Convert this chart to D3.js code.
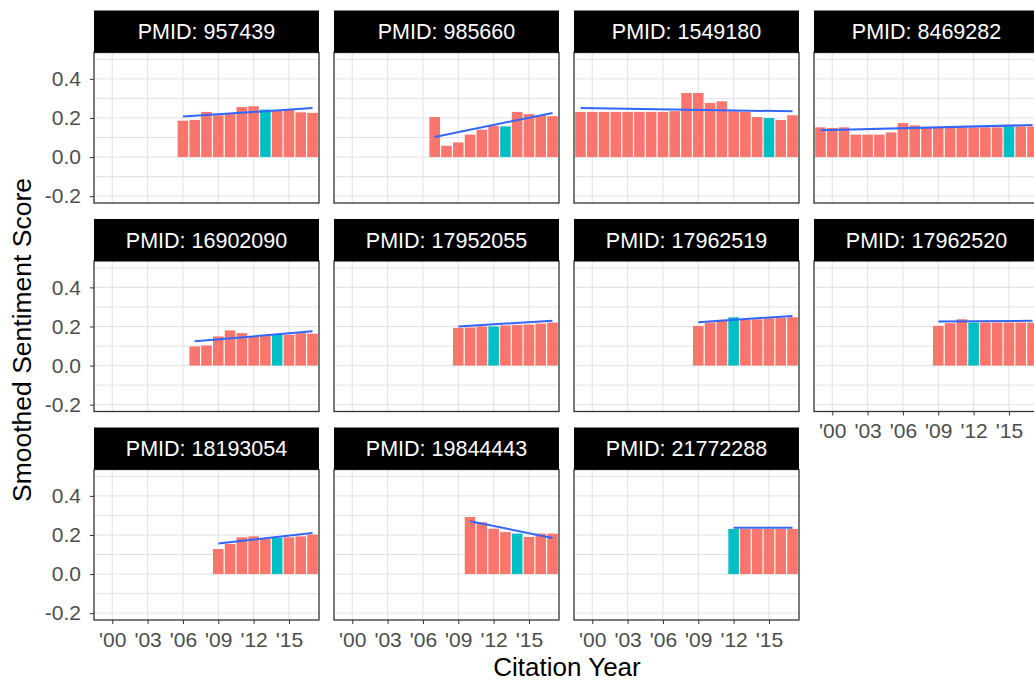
<!DOCTYPE html>
<html>
<head>
<meta charset="utf-8">
<script src="https://cdn.jsdelivr.net/npm/d3@7"></script>
<style>
body { margin: 0; background: #fff; }
text { font-family: "Liberation Sans", Arial, sans-serif; }
</style>
</head>
<body>
<svg id="chart" width="1034" height="682"></svg>
<script>
//facet labels, in the order they are wrapped
var pmids = ["957439", "985660", "1549180", "8469282", "16902090", "17952055",
  "17962519", "17962520", "18193054", "19844443", "21772288"];
//first citation year of each paper, and the year of the highlighted bar
var firstYears = [2006, 2007, 1999, 1999, 2007, 2009, 2009, 2009, 2009, 2010, 2012];
var highlightYears = [2013, 2013, 2015, 2015, 2014, 2012, 2012, 2012, 2014, 2014, 2012];

//smoothed sentiment score per year, from the first year onwards
var scores_957439 = [0.186, 0.19, 0.231, 0.214, 0.22, 0.256, 0.26, 0.243, 0.239, 0.243, 0.229, 0.226];
var scores_985660 = [0.205, 0.058, 0.075, 0.115, 0.14, 0.16, 0.157, 0.231, 0.22, 0.214, 0.209];
var scores_1549180 = [0.231, 0.231, 0.231, 0.231, 0.231, 0.231, 0.231, 0.231, 0.235, 0.328,
  0.328, 0.277, 0.285, 0.234, 0.231, 0.205, 0.2, 0.19, 0.214];
var scores_8469282 = [0.152, 0.149, 0.152, 0.115, 0.115, 0.115, 0.126, 0.174, 0.162, 0.149,
  0.154, 0.152, 0.152, 0.152, 0.152, 0.152, 0.157, 0.157, 0.157];
var scores_16902090 = [0.098, 0.103, 0.149, 0.18, 0.166, 0.149, 0.153, 0.158, 0.158, 0.166, 0.163];
var scores_17952055 = [0.193, 0.195, 0.2, 0.2, 0.205, 0.208, 0.21, 0.215, 0.22];
var scores_17962519 = [0.203, 0.22, 0.234, 0.247, 0.234, 0.237, 0.242, 0.245, 0.247];
var scores_17962520 = [0.203, 0.217, 0.237, 0.22, 0.22, 0.22, 0.22, 0.22, 0.22];
var scores_18193054 = [0.128, 0.154, 0.188, 0.193, 0.18, 0.185, 0.188, 0.193, 0.202];
var scores_19844443 = [0.292, 0.265, 0.232, 0.215, 0.207, 0.19, 0.207, 0.207];
var scores_21772288 = [0.231, 0.231, 0.231, 0.231, 0.231, 0.231];

//linear trend (geom_smooth lm): value at first year and at 2017
var trendStart = [0.207, 0.103, 0.251, 0.137, 0.124, 0.2, 0.222, 0.225, 0.156, 0.27, 0.237];
var trendEnd = [0.251, 0.226, 0.234, 0.164, 0.175, 0.229, 0.254, 0.229, 0.21, 0.185, 0.237];
var lastYear = 2017;

//axis ticks
var yearTicks = [2000, 2003, 2006, 2009, 2012, 2015];
var yearLabels = ["'00", "'03", "'06", "'09", "'12", "'15"];
var scoreTicks = [-0.2, 0.0, 0.2, 0.4];
var scoreGrid = [-0.2, -0.1, 0.0, 0.1, 0.2, 0.3, 0.4, 0.5];

var allScores = [scores_957439, scores_985660, scores_1549180, scores_8469282,
  scores_16902090, scores_17952055, scores_17962519, scores_17962520,
  scores_18193054, scores_19844443, scores_21772288];

//layout of the facet grid
var nCols = 4;
var panelW = 225, panelH = 150.5, stripH = 42;
var left0 = 94, colStep = 240;
var top0 = 52.5, rowStep = 208.5;
var barFill = "#F8766D", highFill = "#00BFC4", trendCol = "#3366FF";

var svg = d3.select("#chart");

var xScale = d3.scaleLinear().domain([1998.45, 2017.55]).range([0, panelW]);
var yScale = d3.scaleLinear().domain([-0.235, 0.535]).range([panelH, 0]);

pmids.forEach(function(id, i) {
  var col = i % nCols, row = Math.floor(i / nCols);
  var px = left0 + col * colStep, py = top0 + row * rowStep;
  var g = svg.append("g").attr("transform", "translate(" + px + "," + py + ")");

  //grid lines
  g.selectAll(".hgrid").data(scoreGrid).enter().append("line")
    .attr("x1", 0).attr("x2", panelW)
    .attr("y1", d => yScale(d)).attr("y2", d => yScale(d))
    .attr("stroke", "#e2e2e2").attr("stroke-width", 1);
  g.selectAll(".vgrid").data(yearTicks).enter().append("line")
    .attr("y1", 0).attr("y2", panelH)
    .attr("x1", d => xScale(d)).attr("x2", d => xScale(d))
    .attr("stroke", "#e2e2e2").attr("stroke-width", 1);

  //bars
  var data = allScores[i].map(function(v, k) {
    return { year: firstYears[i] + k, score: v };
  });
  g.selectAll(".bar").data(data).enter().append("rect")
    .attr("x", d => xScale(d.year - 0.45))
    .attr("width", d => xScale(d.year + 0.45) - xScale(d.year - 0.45))
    .attr("y", d => yScale(Math.max(0, d.score)))
    .attr("height", d => Math.abs(yScale(0) - yScale(d.score)))
    .attr("fill", d => d.year === highlightYears[i] ? highFill : barFill);

  //trend line
  g.append("line")
    .attr("x1", xScale(firstYears[i])).attr("y1", yScale(trendStart[i]))
    .attr("x2", xScale(lastYear)).attr("y2", yScale(trendEnd[i]))
    .attr("stroke", trendCol).attr("stroke-width", 2);

  //panel border
  g.append("rect").attr("width", panelW).attr("height", panelH)
    .attr("fill", "none").attr("stroke", "#333").attr("stroke-width", 1.3);

  //strip
  g.append("rect").attr("y", -stripH).attr("width", panelW).attr("height", stripH)
    .attr("fill", "#000");
  g.append("text").attr("x", panelW / 2).attr("y", -stripH / 2 + 7.5)
    .attr("text-anchor", "middle").attr("fill", "#fff").attr("font-size", 21.5)
    .text("PMID: " + id);

  //y axis on first column
  if (col === 0) {
    var ya = g.append("g").call(d3.axisLeft(yScale).tickValues(scoreTicks)
      .tickFormat(d => d.toFixed(1)).tickSize(4).tickPadding(9));
    ya.select(".domain").remove();
    ya.selectAll("line").attr("stroke", "#333");
    ya.selectAll("text").attr("font-size", 21).attr("fill", "#4d4d4d")
      .attr("font-family", "Liberation Sans, Arial, sans-serif");
  }
  //x axis on panels with nothing below
  if (i + nCols >= pmids.length) {
    var xa = g.append("g").attr("transform", "translate(0," + panelH + ")")
      .call(d3.axisBottom(xScale).tickValues(yearTicks)
        .tickFormat((d, k) => yearLabels[k]).tickSize(4).tickPadding(8));
    xa.select(".domain").remove();
    xa.selectAll("line").attr("stroke", "#333");
    xa.selectAll("text").attr("font-size", 21).attr("fill", "#4d4d4d")
      .attr("font-family", "Liberation Sans, Arial, sans-serif");
  }
});

//axis titles
svg.append("text").attr("x", 567).attr("y", 676)
  .attr("text-anchor", "middle").attr("font-size", 26).attr("fill", "#000")
  .text("Citation Year");
svg.append("text").attr("transform", "translate(31,340) rotate(-90)")
  .attr("text-anchor", "middle").attr("font-size", 26.5).attr("fill", "#000")
  .text("Smoothed Sentiment Score");
</script>
</body>
</html>
